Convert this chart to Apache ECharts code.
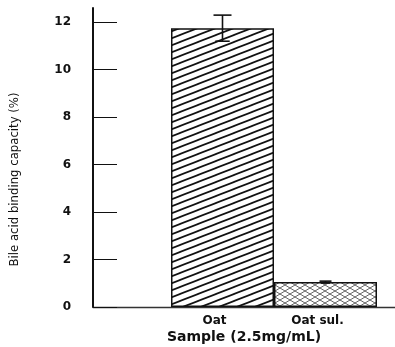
<!DOCTYPE html>
<html><head><meta charset="utf-8">
<script src="https://cdn.jsdelivr.net/npm/echarts@6/dist/echarts.min.js"></script>
<style>html,body{margin:0;padding:0;background:#fff}#c{width:395px;height:347px}</style>
</head><body><div id="c"></div>
<script>
const categories = ['Oat', 'Oat sul.'];
const means = [11.75, 1.05];
const errors = [0.55, 0.04];
const yTicks = [0, 2, 4, 6, 8, 10, 12];
const yAxisTitle = 'Bile acid binding capacity (%)';
const xAxisTitle = 'Sample (2.5mg/mL)';

function hatchPattern() {
  const c = document.createElement('canvas');
  const W = 18, H = 7;
  c.width = W; c.height = H;
  const g = c.getContext('2d');
  g.fillStyle = '#fff'; g.fillRect(0, 0, W, H);
  g.strokeStyle = '#111'; g.lineWidth = 1.7;
  for (let k = -1; k <= 1; k++) {
    g.beginPath();
    g.moveTo(-W, 2 * H + k * H);
    g.lineTo(2 * W, -H + k * H);
    g.stroke();
  }
  return c;
}
function crossPattern() {
  const c = document.createElement('canvas');
  const W = 10, H = 6;
  c.width = W; c.height = H;
  const g = c.getContext('2d');
  g.fillStyle = '#fff'; g.fillRect(0, 0, W, H);
  g.strokeStyle = '#666'; g.lineWidth = 1;
  for (let k = -1; k <= 1; k++) {
    g.beginPath(); g.moveTo(-W, 2 * H + k * H); g.lineTo(2 * W, -H + k * H); g.stroke();
    g.beginPath(); g.moveTo(-W, -H + k * H); g.lineTo(2 * W, 2 * H + k * H); g.stroke();
  }
  return c;
}
const patterns = [hatchPattern(), crossPattern()];

const chart = echarts.init(document.getElementById('c'), null, {renderer: 'canvas'});
const labelFont = {color: '#111', fontFamily: 'DejaVu Sans', fontWeight: 'bold', fontSize: 12};
const option = {
  animation: false,
  backgroundColor: '#fff',
  grid: [
    {left: 93, right: 0, top: 8, bottom: 40, outerBoundsMode: 'none', containLabel: false},
    {left: 171, right: 18, top: 8, bottom: 40, outerBoundsMode: 'none', containLabel: false}
  ],
  xAxis: [
    {gridIndex: 0, type: 'value', min: 0, max: 1,
     axisLine: {show: true, lineStyle: {color: '#333', width: 1.3}},
     axisTick: {show: false}, axisLabel: {show: false}, splitLine: {show: false},
     name: xAxisTitle, nameLocation: 'middle', nameGap: 23,
     nameTextStyle: Object.assign({}, labelFont, {fontSize: 14})},
    {gridIndex: 1, type: 'category', data: categories,
     axisLine: {show: false}, axisTick: {show: false},
     axisLabel: Object.assign({margin: 8, padding: [0, 16, 0, 0]}, labelFont)}
  ],
  yAxis: [
    {gridIndex: 0, type: 'value', min: 0, max: 12.6,
     axisLine: {show: true, lineStyle: {color: '#111', width: 2}},
     axisTick: {show: true, inside: true, length: 24, customValues: yTicks, lineStyle: {color: '#111', width: 1}},
     axisLabel: Object.assign({margin: 22, customValues: yTicks}, labelFont),
     splitLine: {show: false},
     name: yAxisTitle, nameLocation: 'middle', nameRotate: 90, nameGap: 72,
     nameTextStyle: {color: '#111', fontFamily: 'DejaVu Sans Condensed', fontSize: 13, padding: [0, 44, 0, 0]}},
    {gridIndex: 1, type: 'value', min: 0, max: 12.6, show: false}
  ],
  series: [
    {type: 'bar', xAxisIndex: 1, yAxisIndex: 1, barCategoryGap: '0%',
     data: means.map((v, i) => ({value: v, itemStyle: {color: {image: patterns[i], repeat: 'repeat'}, borderColor: '#111', borderWidth: 1.5}}))},
    {type: 'custom', xAxisIndex: 1, yAxisIndex: 1, z: 5,
     data: means.map((v, i) => [i, v - errors[i], v + errors[i], i === 0 ? 9 : 6]),
     renderItem: function (params, api) {
       const lo = api.coord([api.value(0), api.value(1)]);
       const hi = api.coord([api.value(0), api.value(2)]);
       const x = lo[0], cw = api.value(3);
       const st = {stroke: '#111', lineWidth: 1.6};
       return {type: 'group', children: [
         {type: 'line', shape: {x1: x, y1: lo[1], x2: x, y2: hi[1]}, style: st},
         {type: 'line', shape: {x1: x - cw, y1: hi[1], x2: x + cw, y2: hi[1]}, style: st},
         {type: 'line', shape: {x1: x - cw * 0.8, y1: lo[1], x2: x + cw * 0.8, y2: lo[1]}, style: st}
       ]};
     }}
  ]
};
chart.setOption(option);
</script></body></html>
